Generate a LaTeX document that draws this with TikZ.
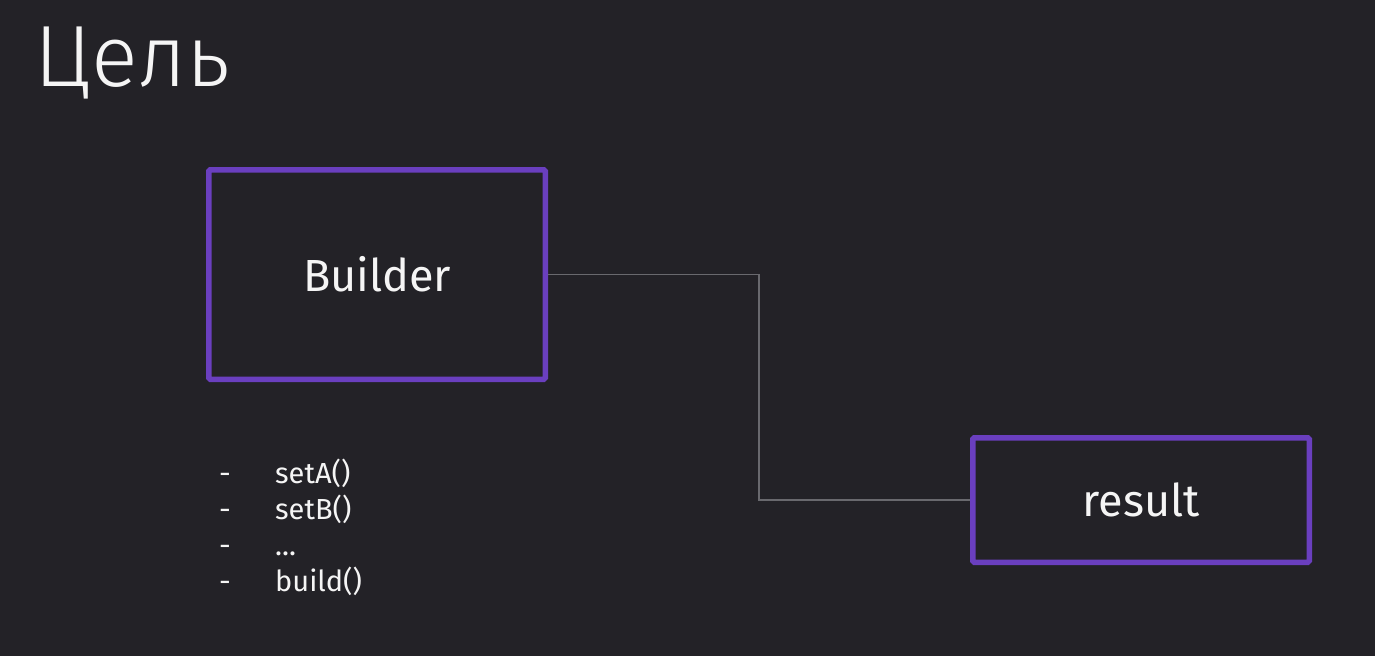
\documentclass[tikz,border=0pt]{standalone}
\usepackage{fontspec}
\setmainfont{Fira Sans}
\newfontfamily\titlefont{Fira Sans Light}
\usepackage{tikz}
\usetikzlibrary{positioning}
\definecolor{slidebg}{RGB}{35, 34, 39}
\definecolor{builderviolet}{RGB}{106, 63, 191}
\definecolor{wire}{RGB}{105, 105, 110}
\definecolor{chalk}{RGB}{245, 245, 245}
\tikzstyle{block} = [rectangle, draw=builderviolet, line width=5.5pt, rounded corners=1.5pt, text=chalk, text centered, font=\fontsize{45}{54}\selectfont, minimum width=336.5pt]
\tikzstyle{textonly} = [draw=none, fill=none, text=chalk, inner sep=0pt]
\tikzstyle{tedge} = [draw, wire, line width=1.5pt]

\begin{document}
\begin{tikzpicture}[x=1pt, y=-1pt]

% slide =============================
\fill[slidebg] (0,0) rectangle (1375,656);
\useasboundingbox (0,0) rectangle (1375,656);

% title
\node[textonly, anchor=base west, font=\titlefont\fontsize{87}{104}\selectfont] (title) at (34,86) {Цель};

% blocks
\node[block, minimum height=209.5pt] (builder) at (377,274.5) {Builder};
\node[block, minimum height=124.5pt, below right=53pt and 422pt of builder.south east, anchor=north west] (result) {result};

% methods
\node[textonly, anchor=base west, font=\fontsize{29}{36}\selectfont] (methods) at (219,483) {%
\begin{tabular}[t]{@{}l@{}l@{}}
\makebox[56pt][l]{-} & setA()\\
\makebox[56pt][l]{-} & setB()\\
\makebox[56pt][l]{-} & ...\\
\makebox[56pt][l]{-} & build()
\end{tabular}};

%edges
\coordinate (bend) at (759,0);
\path[tedge] (builder.east) -- (bend |- builder.east) -- (bend |- result.west) -- (result.west);

\end{tikzpicture}
\end{document}
